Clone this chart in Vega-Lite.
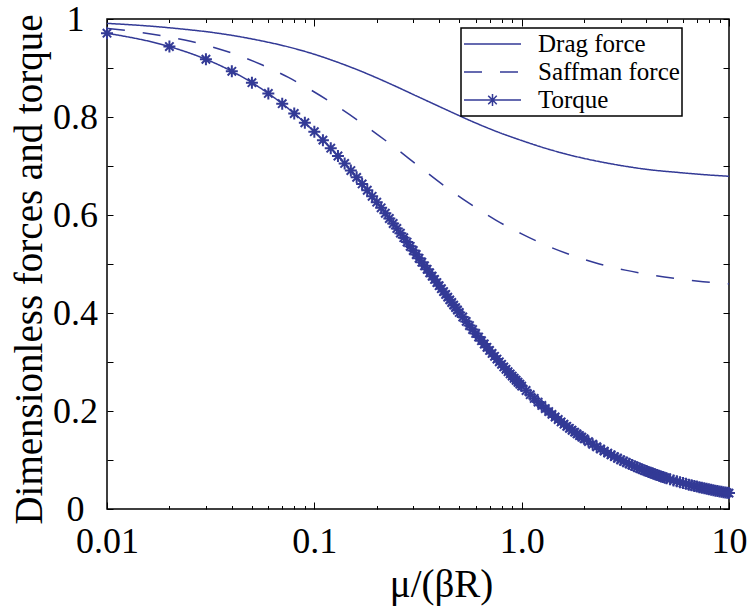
{
  "$schema": "https://vega.github.io/schema/vega-lite/v6.json",
  "width": 622,
  "height": 490,
  "autosize": {"type": "none"},
  "padding": {"left": 107, "top": 19, "right": 22, "bottom": 100},
  "background": "white",
  "config": {"view": {"stroke": "black", "strokeWidth": 1.5}, "font": "Liberation Serif"},
  "datasets": {
    "curves": [
      {"x": 0.01, "v": 0.991, "series": "Drag force"},
      {"x": 0.0133, "v": 0.988, "series": "Drag force"},
      {"x": 0.0178, "v": 0.984, "series": "Drag force"},
      {"x": 0.0237, "v": 0.979, "series": "Drag force"},
      {"x": 0.0316, "v": 0.973, "series": "Drag force"},
      {"x": 0.0422, "v": 0.965, "series": "Drag force"},
      {"x": 0.0562, "v": 0.955, "series": "Drag force"},
      {"x": 0.075, "v": 0.943, "series": "Drag force"},
      {"x": 0.1, "v": 0.928, "series": "Drag force"},
      {"x": 0.133, "v": 0.910, "series": "Drag force"},
      {"x": 0.178, "v": 0.889, "series": "Drag force"},
      {"x": 0.237, "v": 0.866, "series": "Drag force"},
      {"x": 0.316, "v": 0.8415, "series": "Drag force"},
      {"x": 0.422, "v": 0.817, "series": "Drag force"},
      {"x": 0.562, "v": 0.793, "series": "Drag force"},
      {"x": 0.75, "v": 0.771, "series": "Drag force"},
      {"x": 1, "v": 0.752, "series": "Drag force"},
      {"x": 1.33, "v": 0.735, "series": "Drag force"},
      {"x": 1.78, "v": 0.7205, "series": "Drag force"},
      {"x": 2.37, "v": 0.709, "series": "Drag force"},
      {"x": 3.16, "v": 0.6995, "series": "Drag force"},
      {"x": 4.22, "v": 0.692, "series": "Drag force"},
      {"x": 5.62, "v": 0.687, "series": "Drag force"},
      {"x": 7.5, "v": 0.6825, "series": "Drag force"},
      {"x": 10, "v": 0.679, "series": "Drag force"},
      {"x": 0.01, "v": 0.981, "series": "Saffman force"},
      {"x": 0.0133, "v": 0.975, "series": "Saffman force"},
      {"x": 0.0178, "v": 0.967, "series": "Saffman force"},
      {"x": 0.0237, "v": 0.957, "series": "Saffman force"},
      {"x": 0.0316, "v": 0.944, "series": "Saffman force"},
      {"x": 0.0422, "v": 0.927, "series": "Saffman force"},
      {"x": 0.0562, "v": 0.906, "series": "Saffman force"},
      {"x": 0.075, "v": 0.8807, "series": "Saffman force"},
      {"x": 0.1, "v": 0.851, "series": "Saffman force"},
      {"x": 0.133, "v": 0.818, "series": "Saffman force"},
      {"x": 0.178, "v": 0.781, "series": "Saffman force"},
      {"x": 0.237, "v": 0.742, "series": "Saffman force"},
      {"x": 0.316, "v": 0.701, "series": "Saffman force"},
      {"x": 0.422, "v": 0.660, "series": "Saffman force"},
      {"x": 0.562, "v": 0.623, "series": "Saffman force"},
      {"x": 0.75, "v": 0.5896, "series": "Saffman force"},
      {"x": 1, "v": 0.5615, "series": "Saffman force"},
      {"x": 1.33, "v": 0.537, "series": "Saffman force"},
      {"x": 1.78, "v": 0.5165, "series": "Saffman force"},
      {"x": 2.37, "v": 0.500, "series": "Saffman force"},
      {"x": 3.16, "v": 0.4875, "series": "Saffman force"},
      {"x": 4.22, "v": 0.4775, "series": "Saffman force"},
      {"x": 5.62, "v": 0.470, "series": "Saffman force"},
      {"x": 7.5, "v": 0.464, "series": "Saffman force"},
      {"x": 10, "v": 0.4596, "series": "Saffman force"},
      {"x": 0.01, "v": 0.9710, "series": "Torque"},
      {"x": 0.02, "v": 0.9437, "series": "Torque"},
      {"x": 0.03, "v": 0.9178, "series": "Torque"},
      {"x": 0.04, "v": 0.8933, "series": "Torque"},
      {"x": 0.05, "v": 0.8701, "series": "Torque"},
      {"x": 0.06, "v": 0.8481, "series": "Torque"},
      {"x": 0.07, "v": 0.8272, "series": "Torque"},
      {"x": 0.08, "v": 0.8072, "series": "Torque"},
      {"x": 0.09, "v": 0.7882, "series": "Torque"},
      {"x": 0.10, "v": 0.7701, "series": "Torque"},
      {"x": 0.11, "v": 0.7528, "series": "Torque"},
      {"x": 0.12, "v": 0.7363, "series": "Torque"},
      {"x": 0.13, "v": 0.7204, "series": "Torque"},
      {"x": 0.14, "v": 0.7053, "series": "Torque"},
      {"x": 0.15, "v": 0.6907, "series": "Torque"},
      {"x": 0.16, "v": 0.6768, "series": "Torque"},
      {"x": 0.17, "v": 0.6634, "series": "Torque"},
      {"x": 0.18, "v": 0.6505, "series": "Torque"},
      {"x": 0.19, "v": 0.6381, "series": "Torque"},
      {"x": 0.20, "v": 0.6262, "series": "Torque"},
      {"x": 0.21, "v": 0.6147, "series": "Torque"},
      {"x": 0.22, "v": 0.6036, "series": "Torque"},
      {"x": 0.23, "v": 0.5929, "series": "Torque"},
      {"x": 0.24, "v": 0.5826, "series": "Torque"},
      {"x": 0.25, "v": 0.5726, "series": "Torque"},
      {"x": 0.26, "v": 0.5630, "series": "Torque"},
      {"x": 0.27, "v": 0.5537, "series": "Torque"},
      {"x": 0.28, "v": 0.5447, "series": "Torque"},
      {"x": 0.29, "v": 0.5360, "series": "Torque"},
      {"x": 0.30, "v": 0.5276, "series": "Torque"},
      {"x": 0.31, "v": 0.5194, "series": "Torque"},
      {"x": 0.32, "v": 0.5115, "series": "Torque"},
      {"x": 0.33, "v": 0.5038, "series": "Torque"},
      {"x": 0.34, "v": 0.4963, "series": "Torque"},
      {"x": 0.35, "v": 0.4891, "series": "Torque"},
      {"x": 0.36, "v": 0.4820, "series": "Torque"},
      {"x": 0.37, "v": 0.4752, "series": "Torque"},
      {"x": 0.38, "v": 0.4685, "series": "Torque"},
      {"x": 0.39, "v": 0.4621, "series": "Torque"},
      {"x": 0.40, "v": 0.4558, "series": "Torque"},
      {"x": 0.41, "v": 0.4497, "series": "Torque"},
      {"x": 0.42, "v": 0.4437, "series": "Torque"},
      {"x": 0.43, "v": 0.4379, "series": "Torque"},
      {"x": 0.44, "v": 0.4323, "series": "Torque"},
      {"x": 0.45, "v": 0.4268, "series": "Torque"},
      {"x": 0.46, "v": 0.4214, "series": "Torque"},
      {"x": 0.47, "v": 0.4161, "series": "Torque"},
      {"x": 0.48, "v": 0.4110, "series": "Torque"},
      {"x": 0.49, "v": 0.4061, "series": "Torque"},
      {"x": 0.50, "v": 0.4012, "series": "Torque"},
      {"x": 0.52, "v": 0.3918, "series": "Torque"},
      {"x": 0.54, "v": 0.3829, "series": "Torque"},
      {"x": 0.56, "v": 0.3743, "series": "Torque"},
      {"x": 0.58, "v": 0.3661, "series": "Torque"},
      {"x": 0.60, "v": 0.3583, "series": "Torque"},
      {"x": 0.62, "v": 0.3508, "series": "Torque"},
      {"x": 0.64, "v": 0.3436, "series": "Torque"},
      {"x": 0.66, "v": 0.3367, "series": "Torque"},
      {"x": 0.68, "v": 0.3300, "series": "Torque"},
      {"x": 0.70, "v": 0.3237, "series": "Torque"},
      {"x": 0.72, "v": 0.3175, "series": "Torque"},
      {"x": 0.74, "v": 0.3116, "series": "Torque"},
      {"x": 0.76, "v": 0.3059, "series": "Torque"},
      {"x": 0.78, "v": 0.3004, "series": "Torque"},
      {"x": 0.80, "v": 0.2952, "series": "Torque"},
      {"x": 0.82, "v": 0.2900, "series": "Torque"},
      {"x": 0.84, "v": 0.2851, "series": "Torque"},
      {"x": 0.86, "v": 0.2803, "series": "Torque"},
      {"x": 0.88, "v": 0.2757, "series": "Torque"},
      {"x": 0.90, "v": 0.2713, "series": "Torque"},
      {"x": 0.92, "v": 0.2669, "series": "Torque"},
      {"x": 0.94, "v": 0.2627, "series": "Torque"},
      {"x": 0.96, "v": 0.2587, "series": "Torque"},
      {"x": 0.98, "v": 0.2548, "series": "Torque"},
      {"x": 1.00, "v": 0.2509, "series": "Torque"},
      {"x": 1.05, "v": 0.2419, "series": "Torque"},
      {"x": 1.10, "v": 0.2334, "series": "Torque"},
      {"x": 1.15, "v": 0.2256, "series": "Torque"},
      {"x": 1.20, "v": 0.2182, "series": "Torque"},
      {"x": 1.25, "v": 0.2114, "series": "Torque"},
      {"x": 1.30, "v": 0.2049, "series": "Torque"},
      {"x": 1.35, "v": 0.1988, "series": "Torque"},
      {"x": 1.40, "v": 0.1931, "series": "Torque"},
      {"x": 1.45, "v": 0.1877, "series": "Torque"},
      {"x": 1.50, "v": 0.1826, "series": "Torque"},
      {"x": 1.55, "v": 0.1777, "series": "Torque"},
      {"x": 1.60, "v": 0.1731, "series": "Torque"},
      {"x": 1.65, "v": 0.1688, "series": "Torque"},
      {"x": 1.70, "v": 0.1646, "series": "Torque"},
      {"x": 1.75, "v": 0.1607, "series": "Torque"},
      {"x": 1.80, "v": 0.1569, "series": "Torque"},
      {"x": 1.85, "v": 0.1533, "series": "Torque"},
      {"x": 1.90, "v": 0.1499, "series": "Torque"},
      {"x": 1.95, "v": 0.1466, "series": "Torque"},
      {"x": 2.00, "v": 0.1435, "series": "Torque"},
      {"x": 2.1, "v": 0.1376, "series": "Torque"},
      {"x": 2.2, "v": 0.1321, "series": "Torque"},
      {"x": 2.3, "v": 0.1271, "series": "Torque"},
      {"x": 2.4, "v": 0.1225, "series": "Torque"},
      {"x": 2.5, "v": 0.1182, "series": "Torque"},
      {"x": 2.6, "v": 0.1141, "series": "Torque"},
      {"x": 2.7, "v": 0.1104, "series": "Torque"},
      {"x": 2.8, "v": 0.1069, "series": "Torque"},
      {"x": 2.9, "v": 0.1036, "series": "Torque"},
      {"x": 3.0, "v": 0.1004, "series": "Torque"},
      {"x": 3.1, "v": 0.0975, "series": "Torque"},
      {"x": 3.2, "v": 0.0948, "series": "Torque"},
      {"x": 3.3, "v": 0.0922, "series": "Torque"},
      {"x": 3.4, "v": 0.0897, "series": "Torque"},
      {"x": 3.5, "v": 0.0874, "series": "Torque"},
      {"x": 3.6, "v": 0.0851, "series": "Torque"},
      {"x": 3.7, "v": 0.0830, "series": "Torque"},
      {"x": 3.8, "v": 0.0810, "series": "Torque"},
      {"x": 3.9, "v": 0.0791, "series": "Torque"},
      {"x": 4.0, "v": 0.0773, "series": "Torque"},
      {"x": 4.1, "v": 0.0755, "series": "Torque"},
      {"x": 4.2, "v": 0.0739, "series": "Torque"},
      {"x": 4.3, "v": 0.0723, "series": "Torque"},
      {"x": 4.4, "v": 0.0707, "series": "Torque"},
      {"x": 4.5, "v": 0.0693, "series": "Torque"},
      {"x": 4.6, "v": 0.0679, "series": "Torque"},
      {"x": 4.7, "v": 0.0665, "series": "Torque"},
      {"x": 4.8, "v": 0.0652, "series": "Torque"},
      {"x": 4.9, "v": 0.0640, "series": "Torque"},
      {"x": 5.0, "v": 0.0628, "series": "Torque"},
      {"x": 5.2, "v": 0.0605, "series": "Torque"},
      {"x": 5.4, "v": 0.0584, "series": "Torque"},
      {"x": 5.6, "v": 0.0564, "series": "Torque"},
      {"x": 5.8, "v": 0.0546, "series": "Torque"},
      {"x": 6.0, "v": 0.0529, "series": "Torque"},
      {"x": 6.2, "v": 0.0513, "series": "Torque"},
      {"x": 6.4, "v": 0.0497, "series": "Torque"},
      {"x": 6.6, "v": 0.0483, "series": "Torque"},
      {"x": 6.8, "v": 0.0470, "series": "Torque"},
      {"x": 7.0, "v": 0.0457, "series": "Torque"},
      {"x": 7.2, "v": 0.0445, "series": "Torque"},
      {"x": 7.4, "v": 0.0433, "series": "Torque"},
      {"x": 7.6, "v": 0.0422, "series": "Torque"},
      {"x": 7.8, "v": 0.0412, "series": "Torque"},
      {"x": 8.0, "v": 0.0402, "series": "Torque"},
      {"x": 8.2, "v": 0.0393, "series": "Torque"},
      {"x": 8.4, "v": 0.0384, "series": "Torque"},
      {"x": 8.6, "v": 0.0375, "series": "Torque"},
      {"x": 8.8, "v": 0.0367, "series": "Torque"},
      {"x": 9.0, "v": 0.0359, "series": "Torque"},
      {"x": 9.2, "v": 0.0351, "series": "Torque"},
      {"x": 9.4, "v": 0.0344, "series": "Torque"},
      {"x": 9.6, "v": 0.0337, "series": "Torque"},
      {"x": 9.8, "v": 0.0331, "series": "Torque"},
      {"x": 10.0, "v": 0.0324, "series": "Torque"}
    ]
  },
  "data": {"name": "curves"},
  "layer": [
    {
      "mark": {"type": "line", "color": "#333a96", "strokeWidth": 1.5, "interpolate": "monotone"},
      "encoding": {
        "x": {
          "field": "x", "type": "quantitative",
          "scale": {"type": "log", "domain": [0.01, 10]},
          "axis": {
            "orient": "bottom",
            "values": [0.01,0.02,0.03,0.04,0.05,0.06,0.07,0.08,0.09,0.1,0.2,0.3,0.4,0.5,0.6,0.7,0.8,0.9,1,2,3,4,5,6,7,8,9,10],
            "labelExpr": "datum.value == 0.01 ? '0.01' : datum.value == 0.1 ? '0.1' : datum.value == 1 ? '1.0' : datum.value == 10 ? '10' : ''",
            "domain": false, "grid": false,
            "tickColor": "black", "tickWidth": 1,
            "tickSize": {"condition": {"test": "indexof([0.01,0.1,1,10], datum.value) >= 0", "value": -7}, "value": -3.5},
            "labelFont": "Liberation Serif", "labelFontSize": 36, "labelColor": "black",
            "labelBaseline": "alphabetic", "labelPadding": 50,
            "labelFlush": false, "labelOverlap": false, "labelBound": false,
            "title": "μ/(βR)",
            "titleFont": "Liberation Serif", "titleFontSize": 39, "titleFontWeight": "normal", "titleColor": "black",
            "titleX": 334, "titleY": 87, "titleAlign": "center", "titleBaseline": "alphabetic"
          }
        },
        "y": {
          "field": "v", "type": "quantitative",
          "scale": {"domain": [0, 1]},
          "axis": {
            "orient": "left",
            "values": [0,0.1,0.2,0.3,0.4,0.5,0.6,0.7,0.8,0.9,1],
            "format": ".1~f",
            "labelExpr": "(round(datum.value*10) % 2 == 0) ? datum.label : ''",
            "domain": false, "grid": false,
            "tickColor": "black", "tickWidth": 1, "tickSize": -6,
            "labelFont": "Liberation Serif", "labelFontSize": 36, "labelColor": "black",
            "labelAlign": "center", "labelBaseline": "middle", "labelPadding": 38,
            "labelOverlap": false, "labelBound": false, "labelFlush": false,
            "title": "Dimensionless forces and torque",
            "titleFont": "Liberation Serif", "titleFontSize": 39, "titleFontWeight": "normal", "titleColor": "black",
            "titleX": -78, "titleY": 250, "titleAngle": -90, "titleAlign": "center", "titleBaseline": "middle"
          }
        },
        "strokeDash": {
          "field": "series", "type": "nominal",
          "scale": {"domain": ["Drag force", "Saffman force", "Torque"], "range": [[1, 0], [18, 18], [1, 0]]},
          "legend": {
            "orient": "none", "legendX": 354, "legendY": 9,
            "title": null,
            "strokeColor": "black", "padding": 2,
            "clipHeight": 28, "rowPadding": 0,
            "symbolSize": 3249, "symbolStrokeColor": "#333a96", "symbolStrokeWidth": 1.5, "symbolFillColor": "transparent",
            "labelFont": "Liberation Serif", "labelFontSize": 25, "labelColor": "black", "labelLimit": 400, "labelOffset": 16,
            "encode": {
              "legend": {"update": {"strokeWidth": {"value": 1.5}}},
              "symbols": {"update": {"shape": {"signal": "datum.value === 'Torque' ? 'M-1,0H1M0,-0.21V0.21M-0.21,0H0.21M-0.15,-0.15L0.15,0.15M-0.15,0.15L0.15,-0.15' : 'M-1,0H1'"}}}
            }
          }
        }
      }
    },
    {
      "transform": [{"filter": "datum.series == 'Torque'"}],
      "mark": {"type": "point", "shape": "M0,-1V1M-1,0H1M-0.7,-0.7L0.7,0.7M-0.7,0.7L0.7,-0.7", "filled": false, "color": "#333a96", "strokeWidth": 2, "size": 144, "opacity": 1},
      "encoding": {
        "x": {"field": "x", "type": "quantitative", "axis": null},
        "y": {"field": "v", "type": "quantitative", "axis": null}
      }
    },
    {
      "mark": {"type": "point", "opacity": 0},
      "encoding": {
        "x": {
          "field": "x", "type": "quantitative",
          "axis": {
            "orient": "top",
            "values": [0.01,0.02,0.03,0.04,0.05,0.06,0.07,0.08,0.09,0.1,0.2,0.3,0.4,0.5,0.6,0.7,0.8,0.9,1,2,3,4,5,6,7,8,9,10],
            "labels": false, "domain": false, "grid": false, "title": null,
            "tickColor": "black", "tickWidth": 1,
            "tickSize": {"condition": {"test": "indexof([0.01,0.1,1,10], datum.value) >= 0", "value": -7}, "value": -3.5}
          }
        },
        "y": {
          "field": "v", "type": "quantitative",
          "axis": {
            "orient": "right",
            "values": [0,0.1,0.2,0.3,0.4,0.5,0.6,0.7,0.8,0.9,1],
            "labels": false, "domain": false, "grid": false, "title": null,
            "tickColor": "black", "tickWidth": 1, "tickSize": -6
          }
        }
      }
    }
  ],
  "resolve": {"axis": {"x": "independent", "y": "independent"}}
}
